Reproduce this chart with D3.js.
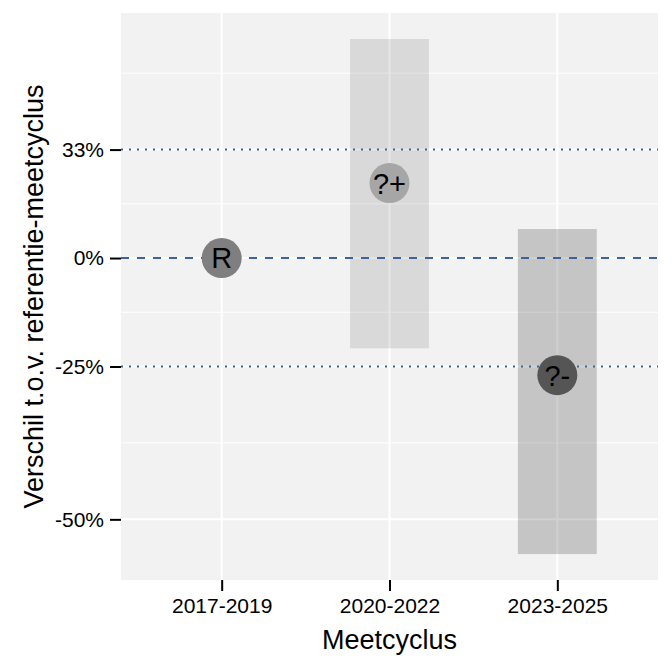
<!DOCTYPE html>
<html>
<head>
<meta charset="utf-8">
<script src="https://cdn.jsdelivr.net/npm/d3@7"></script>
<style>
  body { margin: 0; background: #fff; }
  text { font-family: "Liberation Sans", Arial, sans-serif; }
</style>
</head>
<body>
<div id="wrapper"></div>
<script>
// gegevens (verhouding t.o.v. referentie, log-schaal)
const cycles = ["2017-2019", "2020-2022", "2023-2025"];
const estimates = [1, 1.22, 0.733];
const lowerBounds = [null, 0.787, 0.456];
const upperBounds = [null, 1.788, 1.08];
const classLabels = ["R", "?+", "?-"];

const yBreaks = [0.5, 0.75, 1, 4 / 3];
const yBreakLabels = ["-50%", "-25%", "0%", "33%"];
const extraBreak = 2; // buiten bereik, enkel voor minor grid

const width = 672, height = 672;
const margin = { top: 13, right: 14, bottom: 92, left: 121 };

const svg = d3.select("#wrapper")
  .append("svg")
  .attr("width", width)
  .attr("height", height);

const x = d3.scalePoint()
  .domain(cycles)
  .range([margin.left, width - margin.right])
  .padding(0.6);

const y = d3.scaleLog()
  .domain([0.4257, 1.9155])
  .range([height - margin.bottom, margin.top]);

const step = x.step();

// panel achtergrond
svg.append("rect")
  .attr("x", margin.left)
  .attr("y", margin.top)
  .attr("width", width - margin.left - margin.right)
  .attr("height", height - margin.top - margin.bottom)
  .attr("fill", "#f2f2f2");

// minor gridlijnen (midden tussen breaks in log-ruimte)
const allBreaks = yBreaks.concat([extraBreak]);
const minor = d3.pairs(allBreaks).map(([a, b]) => Math.sqrt(a * b));
svg.append("g")
  .selectAll("line")
  .data(minor)
  .join("line")
  .attr("x1", margin.left)
  .attr("x2", width - margin.right)
  .attr("y1", d => y(d))
  .attr("y2", d => y(d))
  .attr("stroke", "#fff")
  .attr("stroke-width", 1);

// major gridlijnen
svg.append("g")
  .selectAll("line")
  .data(yBreaks)
  .join("line")
  .attr("x1", margin.left)
  .attr("x2", width - margin.right)
  .attr("y1", d => y(d))
  .attr("y2", d => y(d))
  .attr("stroke", "#fff")
  .attr("stroke-width", 2);

svg.append("g")
  .selectAll("line")
  .data(cycles)
  .join("line")
  .attr("x1", d => x(d))
  .attr("x2", d => x(d))
  .attr("y1", margin.top)
  .attr("y2", height - margin.bottom)
  .attr("stroke", "#fff")
  .attr("stroke-width", 2);

// betrouwbaarheidsintervallen als balken
const barOpacity = d3.scaleOrdinal()
  .domain(classLabels)
  .range([0, 0.1, 0.186]);

const rows = cycles.map((c, i) => ({
  cycle: c, est: estimates[i], lo: lowerBounds[i], hi: upperBounds[i], label: classLabels[i]
}));

svg.append("g")
  .selectAll("rect")
  .data(rows.filter(d => d.lo != null))
  .join("rect")
  .attr("x", d => x(d.cycle) - step * 0.235)
  .attr("width", step * 0.47)
  .attr("y", d => y(d.hi))
  .attr("height", d => y(d.lo) - y(d.hi))
  .attr("fill", "#000")
  .attr("fill-opacity", d => barOpacity(d.label));

// referentielijnen
const refLines = [
  { v: 4 / 3, dash: "2,6" },
  { v: 1, dash: "8,8" },
  { v: 0.75, dash: "2,6" }
];
svg.append("g")
  .selectAll("line")
  .data(refLines)
  .join("line")
  .attr("x1", margin.left)
  .attr("x2", width - margin.right)
  .attr("y1", d => y(d.v))
  .attr("y2", d => y(d.v))
  .attr("stroke", "#3a659a")
  .attr("stroke-width", 2)
  .attr("stroke-dasharray", d => d.dash);

// punten met klasse-label
const pointFill = d3.scaleOrdinal()
  .domain(classLabels)
  .range(["#7f7f7f", "#a6a6a6", "#555555"]);

const pts = svg.append("g")
  .selectAll("g")
  .data(rows)
  .join("g")
  .attr("transform", d => `translate(${x(d.cycle)},${y(d.est)})`);

pts.append("circle")
  .attr("r", 20)
  .attr("fill", d => pointFill(d.label));

pts.append("text")
  .attr("text-anchor", "middle")
  .attr("dy", "0.36em")
  .attr("font-size", 29)
  .attr("fill", "#000")
  .text(d => d.label);

// assen
const xAxis = g => g
  .attr("transform", `translate(0,${height - margin.bottom})`)
  .call(d3.axisBottom(x).tickSize(11).tickPadding(7))
  .call(g => g.select(".domain").remove())
  .call(g => g.selectAll(".tick line").attr("stroke", "#000").attr("stroke-width", 2))
  .call(g => g.selectAll(".tick text").attr("font-size", 21).attr("fill", "#000"));

const yAxis = g => g
  .attr("transform", `translate(${margin.left},0)`)
  .call(d3.axisLeft(y).tickValues(yBreaks)
    .tickFormat((d, i) => yBreakLabels[i]).tickSize(11).tickPadding(6))
  .call(g => g.select(".domain").remove())
  .call(g => g.selectAll(".tick line").attr("stroke", "#000").attr("stroke-width", 2))
  .call(g => g.selectAll(".tick text").attr("font-size", 21).attr("fill", "#000"));

svg.append("g").call(xAxis);
svg.append("g").call(yAxis);

// as-titels
svg.append("text")
  .attr("x", (margin.left + width - margin.right) / 2)
  .attr("y", 649)
  .attr("text-anchor", "middle")
  .attr("font-size", 27)
  .text("Meetcyclus");

svg.append("text")
  .attr("transform", `translate(43,${(margin.top + height - margin.bottom) / 2}) rotate(-90)`)
  .attr("text-anchor", "middle")
  .attr("font-size", 27)
  .text("Verschil t.o.v. referentie-meetcyclus");
</script>
</body>
</html>
